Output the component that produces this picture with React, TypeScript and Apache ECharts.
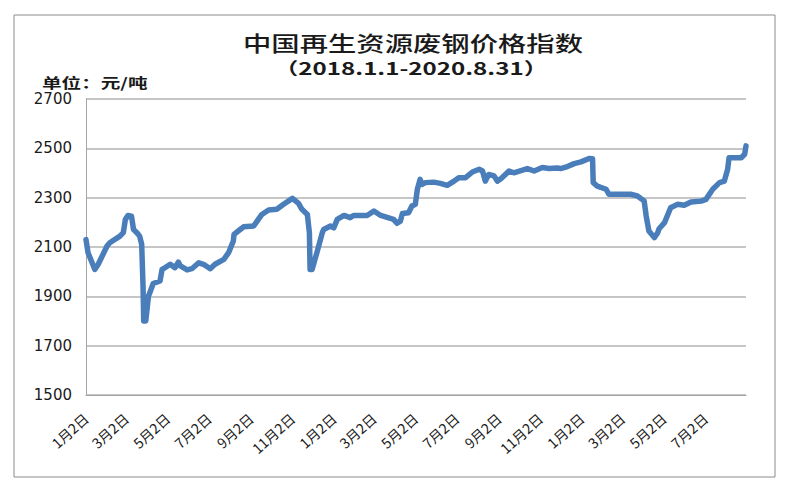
import React, { useEffect, useRef } from "react";
import * as echarts from "echarts";

// Key readings of the index (date, yuan/ton)
const keyDates: string[] = [
  "2018-01-02", "2018-01-05", "2018-01-15", "2018-01-20", "2018-02-02", "2018-02-06", "2018-02-21", "2018-02-26",
  "2018-03-01", "2018-03-05", "2018-03-10", "2018-03-13", "2018-03-18", "2018-03-22", "2018-03-25", "2018-03-27",
  "2018-03-28", "2018-03-31", "2018-04-04", "2018-04-06", "2018-04-11", "2018-04-21", "2018-04-24", "2018-04-26",
  "2018-05-06", "2018-05-13", "2018-05-18", "2018-05-21", "2018-05-31", "2018-06-07", "2018-06-17", "2018-06-24",
  "2018-07-04", "2018-07-11", "2018-07-24", "2018-07-31", "2018-08-07", "2018-08-08", "2018-08-17", "2018-08-22",
  "2018-09-06", "2018-09-11", "2018-09-18", "2018-09-28", "2018-10-10", "2018-10-20", "2018-11-02", "2018-11-11",
  "2018-11-16", "2018-11-24", "2018-11-27", "2018-11-28", "2018-12-01", "2018-12-08", "2018-12-16", "2018-12-18",
  "2018-12-28", "2019-01-02", "2019-01-07", "2019-01-17", "2019-01-26", "2019-01-31", "2019-02-20", "2019-03-02",
  "2019-03-12", "2019-03-31", "2019-04-05", "2019-04-10", "2019-04-13", "2019-04-22", "2019-04-27", "2019-05-02",
  "2019-05-05", "2019-05-09", "2019-05-12", "2019-05-17", "2019-05-29", "2019-06-08", "2019-06-18", "2019-06-28",
  "2019-07-05", "2019-07-15", "2019-07-25", "2019-08-04", "2019-08-09", "2019-08-13", "2019-08-18", "2019-08-26",
  "2019-08-31", "2019-09-05", "2019-09-17", "2019-09-24", "2019-10-14", "2019-10-24", "2019-11-05", "2019-11-15",
  "2019-11-27", "2019-12-02", "2019-12-12", "2019-12-22", "2020-01-01", "2020-01-13", "2020-01-18", "2020-01-19",
  "2020-01-25", "2020-02-07", "2020-02-11", "2020-03-14", "2020-03-24", "2020-04-03", "2020-04-06", "2020-04-10",
  "2020-04-18", "2020-04-23", "2020-04-25", "2020-05-03", "2020-05-12", "2020-05-22", "2020-06-01", "2020-06-11",
  "2020-06-26", "2020-07-03", "2020-07-13", "2020-07-23", "2020-07-30", "2020-08-04", "2020-08-06", "2020-08-24",
  "2020-08-29", "2020-08-31",
];

const keyValues: number[] = [
  2130, 2077, 2009, 2030, 2104, 2117, 2144, 2158,
  2212, 2228, 2225, 2171, 2158, 2144, 2111, 1942,
  1800, 1800, 1901, 1915, 1952, 1962, 2009, 2012,
  2030, 2016, 2039, 2023, 2007, 2012, 2036, 2030,
  2012, 2030, 2050, 2077, 2124, 2151, 2171, 2182,
  2185, 2205, 2232, 2250, 2253, 2273, 2297, 2277,
  2253, 2232, 2158, 2009, 2009, 2077, 2158, 2171,
  2185, 2178, 2212, 2228, 2219, 2228, 2228, 2246,
  2228, 2212, 2196, 2205, 2236, 2239, 2266, 2273,
  2334, 2374, 2354, 2361, 2363, 2358, 2350, 2367,
  2381, 2381, 2404, 2415, 2408, 2367, 2394, 2388,
  2367, 2377, 2408, 2401, 2418, 2408, 2422, 2418,
  2420, 2418, 2426, 2438, 2445, 2459, 2458, 2361,
  2347, 2334, 2314, 2314, 2307, 2287, 2226, 2165,
  2138, 2158, 2174, 2199, 2259, 2273, 2269, 2282,
  2286, 2293, 2334, 2361, 2367, 2415, 2462, 2462,
  2476, 2510,
];

const startDate = "2018-01-02";
const endDate = "2020-08-31";
const labelMonths: number[] = [1, 3, 5, 7, 9, 11];
const labelDay = 2;

const yMin = 1500;
const yMax = 2700;
const yStep = 200;

const titleText = "中国再生资源废钢价格指数";
const subtitleText = "（2018.1.1-2020.8.31）";
const unitText = "单位：元/吨";

function buildDays(): string[] {
  const out: string[] = [];
  const d = new Date(startDate + "T00:00:00Z");
  const end = new Date(endDate + "T00:00:00Z");
  while (d.getTime() <= end.getTime()) {
    out.push(d.toISOString().slice(0, 10));
    d.setUTCDate(d.getUTCDate() + 1);
  }
  return out;
}

export default function App() {
  const ref = useRef<HTMLDivElement>(null);

  useEffect(() => {
    if (!ref.current) return;
    const chart = echarts.init(ref.current, null, { renderer: "svg" });

    const days = buildDays();
    const lookup: Record<string, number> = {};
    keyDates.forEach((k, i) => {
      lookup[k] = keyValues[i];
    });
    const data = days.map((d) => (d in lookup ? lookup[d] : null));

    const isLabel = (v: string) => {
      const m = parseInt(v.slice(5, 7), 10);
      const dd = parseInt(v.slice(8, 10), 10);
      return dd === labelDay && labelMonths.indexOf(m) >= 0;
    };

    chart.setOption({
      animation: false,
      backgroundColor: "#ffffff",
      grid: { left: 86, top: 99, right: 54, bottom: 105, containLabel: false },
      graphic: [
        {
          type: "rect",
          shape: { x: 14, y: 15, width: 761, height: 462 },
          style: { fill: "none", stroke: "#8c8c8c", lineWidth: 1 },
          silent: true,
        },
        {
          type: "text",
          x: 413,
          y: 42,
          scaleX: 1.35,
          style: {
            text: titleText,
            fontFamily: "Noto Sans CJK SC",
            fontSize: 21,
            fontWeight: 500,
            fill: "#1a1a1a",
            textAlign: "center",
            textVerticalAlign: "middle",
          },
        },
        {
          type: "text",
          x: 411,
          y: 68,
          scaleX: 1.42,
          style: {
            text: subtitleText,
            fontFamily: "Noto Sans CJK SC",
            fontSize: 17,
            fontWeight: "bold",
            fill: "#1a1a1a",
            textAlign: "center",
            textVerticalAlign: "middle",
          },
        },
        {
          type: "text",
          x: 42,
          y: 82,
          scaleX: 1.4,
          style: {
            text: unitText,
            fontFamily: "Noto Sans CJK SC",
            fontSize: 14,
            fontWeight: "bold",
            fill: "#1a1a1a",
            textAlign: "left",
            textVerticalAlign: "middle",
          },
        },
      ],
      xAxis: {
        type: "category",
        data: days,
        boundaryGap: false,
        axisLine: { show: true, lineStyle: { color: "#a6a6a6", width: 1 } },
        axisTick: { show: false },
        splitLine: { show: false },
        axisLabel: {
          interval: (_i: number, v: string) => isLabel(v),
          formatter: (v: string) => `${parseInt(v.slice(5, 7), 10)}月${parseInt(v.slice(8, 10), 10)}日`,
          rotate: 42,
          margin: 21,
          fontFamily: "Noto Sans CJK SC",
          fontSize: 14,
          color: "#1a1a1a",
        },
      },
      yAxis: {
        type: "value",
        min: yMin,
        max: yMax,
        interval: yStep,
        axisLine: { show: true, lineStyle: { color: "#a6a6a6", width: 1 } },
        axisTick: { show: false },
        splitLine: { show: true, lineStyle: { color: "#b3b3b3", width: 1.5 } },
        axisLabel: {
          margin: 14,
          formatter: (v: number) => String(v),
          fontFamily: "DejaVu Sans",
          fontSize: 15,
          color: "#1a1a1a",
        },
      },
      series: [
        {
          type: "line",
          data,
          connectNulls: true,
          showSymbol: false,
          symbol: "none",
          lineStyle: { color: "#4a7ebb", width: 5.5, cap: "round", join: "round" },
          emphasis: { disabled: true },
        },
      ],
    });

    return () => {
      chart.dispose();
    };
  }, []);

  return (
    <div
      ref={ref}
      style={{ position: "fixed", left: 0, top: 0, width: 800, height: 500, background: "#fff" }}
    />
  );
}
